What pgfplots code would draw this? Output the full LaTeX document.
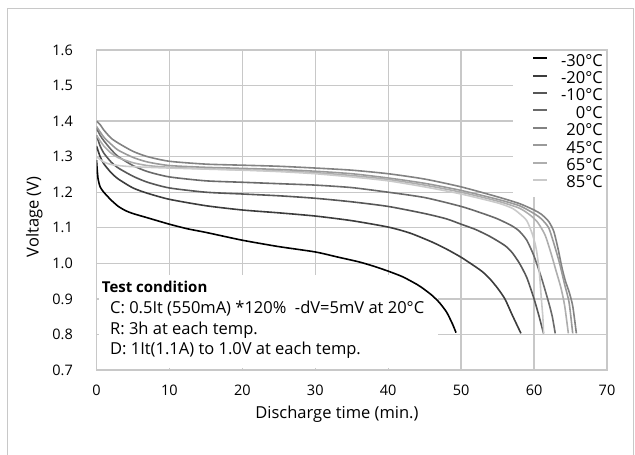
\documentclass[border=0pt]{standalone}
\usepackage{fontspec}
\setmainfont{Open Sans}
\usepackage{pgfplots}
\pgfplotsset{compat=1.18}

\definecolor{gridgray}{HTML}{C8C8C8}
\definecolor{tA}{HTML}{000000}
\definecolor{tB}{HTML}{3C3C3C}
\definecolor{tC}{HTML}{575757}
\definecolor{tD}{HTML}{6A6A6A}
\definecolor{tE}{HTML}{828282}
\definecolor{tF}{HTML}{9A9A9A}
\definecolor{tG}{HTML}{AEAEAE}
\definecolor{tH}{HTML}{CACACA}

\newcommand\tickfont{\fontsize{14.5bp}{17bp}\selectfont}
\newcommand\chartfont{\fontsize{16.5bp}{19bp}\selectfont}

\begin{document}
\begin{tikzpicture}[font=\chartfont]
\useasboundingbox (0,0) rectangle (635bp,455bp);
\draw[gridgray, line width=1bp] (7.5bp,-5bp) rectangle (633bp,446bp);
\begin{axis}[
    at={(96.5bp,85bp)}, anchor=south west,
    width=510.5bp, height=320bp, scale only axis,
    xmin=0, xmax=70, ymin=0.7, ymax=1.6,
    xtick={0,10,20,30,40,50,60,70},
    ytick={0.7,0.8,0.9,1.0,1.1,1.2,1.3,1.4,1.5,1.6},
    /pgf/number format/assume math mode=true,
    tick label style={font=\tickfont},
    yticklabel style={/pgf/number format/fixed, /pgf/number format/fixed zerofill,
      /pgf/number format/precision=1, inner sep=0pt, xshift=-23.5bp},
    xticklabel style={inner sep=0pt, yshift=-15bp},
    major tick length=0pt,
    grid=major,
    major grid style={gridgray, line width=1.3bp},
    axis line style={gridgray, line width=1.3bp},
    xlabel={Discharge time (min.)},
    ylabel={Voltage (V)},
    xlabel style={at={(axis description cs:0.471,-0.138)}, anchor=center},
    ylabel style={at={(axis description cs:-0.1216,0.478)}, anchor=center},
    legend style={at={(1,1)}, anchor=north east, xshift=-4bp, yshift=-5bp,
      draw=none, fill=none, inner sep=0pt, row sep=3.4bp,
      nodes={inner sep=0pt, text height=11bp, text depth=3bp},
      /tikz/every odd column/.append style={column sep=13bp}},
    legend cell align=right,
    legend image code/.code={\draw[#1, line width=2bp] (0bp,4bp) -- (14bp,4bp);},
  ]
  % white boxes behind the legend and the note
  \fill[white] (axis cs:57.1,1.187) rectangle (axis cs:69.85,1.597);
  \fill[white] (axis cs:0.3,0.706) rectangle (axis cs:46.8,0.967);

  \addplot[tA, line width=1.6bp, smooth, tension=0.4] coordinates {
    (0,1.29) (0.2,1.24) (0.5,1.215) (1,1.20) (2,1.178) (3,1.16) (4,1.148)
    (5,1.14) (7,1.128) (10,1.11) (12.5,1.097) (15,1.087) (20,1.065)
    (25,1.047) (30,1.032) (33,1.018) (36,1.004) (38,0.992) (40,0.978)
    (42,0.962) (44,0.94) (45,0.926) (46,0.91) (47,0.89) (48,0.863)
    (48.8,0.83) (49.3,0.805)
  };
  \addplot[tB, line width=1.6bp, smooth, tension=0.4] coordinates {
    (0,1.33) (0.5,1.30) (1,1.28) (2,1.255) (3,1.237) (5,1.212) (7,1.197)
    (10,1.18) (15,1.162) (20,1.15) (25,1.142) (30,1.133) (35,1.12)
    (40,1.102) (43,1.085) (46,1.06) (48,1.04) (50,1.017) (52,0.99)
    (53,0.975) (54,0.955) (55,0.93) (56,0.9) (57,0.855) (58.2,0.803)
  };
  \addplot[tC, line width=1.6bp, smooth, tension=0.4] coordinates {
    (0,1.36) (0.5,1.33) (1,1.31) (2,1.285) (3,1.268) (5,1.245) (7,1.228)
    (10,1.212) (15,1.2) (20,1.195) (25,1.19) (30,1.183) (35,1.173)
    (40,1.16) (45,1.14) (48,1.125) (50,1.11) (52,1.095) (54,1.075)
    (56,1.05) (57,1.03) (58,1.0) (59,0.96) (60,0.9) (60.7,0.85) (61.3,0.803)
  };
  \addplot[tD, line width=1.6bp, smooth, tension=0.4] coordinates {
    (0,1.38) (0.5,1.36) (1,1.345) (2,1.32) (3,1.3) (5,1.275) (7,1.258)
    (10,1.243) (15,1.232) (20,1.228) (25,1.224) (30,1.22) (35,1.213)
    (40,1.2) (45,1.185) (50,1.16) (53,1.14) (55,1.125) (57,1.105)
    (58,1.09) (59,1.065) (60,1.02) (61,0.96) (62,0.89) (62.5,0.85) (62.9,0.803)
  };
  \addplot[tE, line width=1.6bp, smooth, tension=0.4] coordinates {
    (0,1.40) (0.5,1.39) (1,1.375) (2,1.352) (3,1.338) (5,1.315) (7,1.3)
    (10,1.287) (15,1.279) (20,1.276) (25,1.273) (30,1.268) (35,1.262)
    (40,1.252) (45,1.237) (50,1.215) (55,1.187) (58,1.168) (60,1.15)
    (61,1.138) (62,1.118) (62.7,1.09) (63.3,1.04) (63.8,0.99) (64.3,0.95)
    (64.8,0.92) (65.3,0.88) (65.8,0.803)
  };
  \addplot[tF, line width=1.6bp, smooth, tension=0.4] coordinates {
    (0,1.385) (1,1.355) (2,1.335) (3,1.318) (5,1.298) (7,1.285) (10,1.275)
    (15,1.27) (20,1.267) (25,1.264) (30,1.259) (35,1.252) (40,1.24)
    (45,1.225) (50,1.205) (55,1.18) (58,1.162) (60,1.14) (61,1.125)
    (62,1.1) (62.8,1.05) (63.5,1.0) (64.2,0.94) (64.8,0.89) (65.3,0.803)
  };
  \addplot[tG, line width=1.6bp, smooth, tension=0.4] coordinates {
    (0,1.36) (1,1.33) (2,1.31) (3,1.297) (5,1.283) (7,1.275) (10,1.27)
    (15,1.266) (20,1.263) (25,1.26) (30,1.255) (35,1.247) (40,1.236)
    (45,1.22) (50,1.2) (55,1.175) (58,1.155) (59.5,1.135) (60.5,1.115)
    (61.5,1.08) (62.3,1.03) (63,0.98) (63.7,0.93) (64.2,0.88) (64.7,0.803)
  };
  \addplot[tH, line width=1.6bp, smooth, tension=0.4] coordinates {
    (0,1.30) (1,1.285) (2,1.278) (4,1.273) (7,1.27) (10,1.268) (15,1.265)
    (20,1.262) (25,1.258) (30,1.252) (35,1.243) (40,1.232) (45,1.215)
    (50,1.195) (55,1.17) (57,1.155) (58,1.14) (59,1.12) (59.8,1.08)
    (60.3,1.04) (60.7,0.98) (61,0.9) (61.2,0.85) (61.3,0.803)
  };
  \legend{-30°C,-20°C,-10°C,0°C,20°C,45°C,65°C,85°C}

  \node[anchor=west, inner sep=0pt, font=\fontsize{15bp}{18bp}\selectfont\bfseries] at (axis cs:0.71,0.934) {Test condition};
  \node[anchor=west, inner sep=0pt] at (axis cs:1.85,0.872) {C: 0.5It (550mA) *120\%\ \ -dV=5mV at 20°C};
  \node[anchor=west, inner sep=0pt] at (axis cs:1.85,0.813) {R: 3h at each temp.};
  \node[anchor=west, inner sep=0pt] at (axis cs:1.85,0.756) {D: 1It(1.1A) to 1.0V at each temp.};
\end{axis}
\end{tikzpicture}
\end{document}
